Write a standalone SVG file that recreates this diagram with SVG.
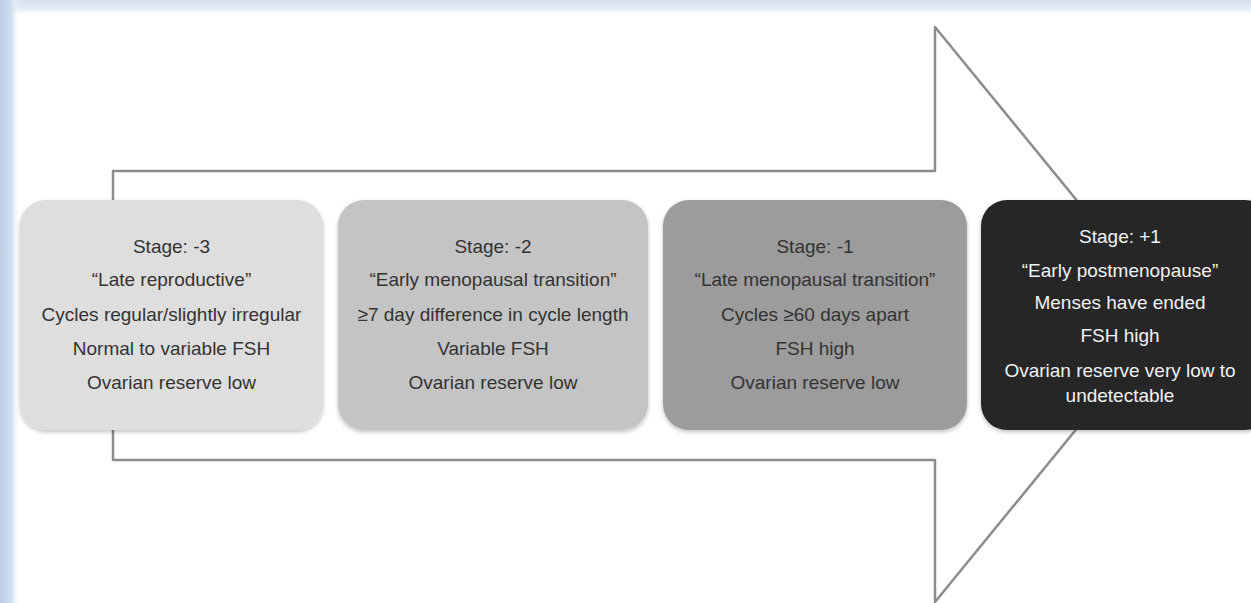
<svg xmlns="http://www.w3.org/2000/svg" width="1251" height="603" viewBox="0 0 1251 603">
<defs>
<linearGradient id="gl" x1="0" y1="0" x2="1" y2="0">
<stop offset="0" stop-color="#b9cde6"/>
<stop offset="0.6" stop-color="#d3e0f0"/>
<stop offset="1" stop-color="#ffffff" stop-opacity="0"/>
</linearGradient>
<linearGradient id="gt" x1="0" y1="0" x2="0" y2="1">
<stop offset="0" stop-color="#d6e1ef"/>
<stop offset="0.6" stop-color="#e6edf6"/>
<stop offset="1" stop-color="#ffffff" stop-opacity="0"/>
</linearGradient>
<filter id="sh" x="-5%" y="-5%" width="110%" height="115%">
<feGaussianBlur in="SourceAlpha" stdDeviation="2"/>
<feOffset dx="0" dy="2" result="b"/>
<feComponentTransfer><feFuncA type="linear" slope="0.25"/></feComponentTransfer>
<feMerge><feMergeNode/><feMergeNode in="SourceGraphic"/></feMerge>
</filter>
</defs>
<style>
.t{font-family:"Liberation Sans",Arial,sans-serif;font-size:19px;text-anchor:middle;fill:#333333}
.w{fill:#f2f2f2}
.box{filter:url(#sh)}
</style>
<rect width="1251" height="603" fill="#ffffff"/>
<rect x="0" y="0" width="1251" height="16" fill="url(#gt)"/>
<rect x="0" y="0" width="20" height="603" fill="url(#gl)"/>
<g id="connectors">
<path d="M113,171 H935 V27 L1170,314.5 L935,602 V460 H113 Z" fill="none" stroke="#8c8c8c" stroke-width="2.5" stroke-linejoin="round"/>
</g>
<g id="stage-3">
<rect class="box" x="20" y="200" width="303" height="230" rx="26" fill="#dedede"/>
<text class="t" x="171.5" y="253">Stage: -3</text>
<text class="t" x="171.5" y="286">“Late reproductive”</text>
<text class="t" x="171.5" y="321">Cycles regular/slightly irregular</text>
<text class="t" x="171.5" y="355">Normal to variable FSH</text>
<text class="t" x="171.5" y="389">Ovarian reserve low</text>
</g>
<g id="stage-2">
<rect class="box" x="338" y="200" width="310" height="230" rx="26" fill="#c4c4c4"/>
<text class="t" x="493" y="253">Stage: -2</text>
<text class="t" x="493" y="286">“Early menopausal transition”</text>
<text class="t" x="493" y="321">≥7 day difference in cycle length</text>
<text class="t" x="493" y="355">Variable FSH</text>
<text class="t" x="493" y="389">Ovarian reserve low</text>
</g>
<g id="stage-1">
<rect class="box" x="663" y="200" width="304" height="230" rx="26" fill="#9c9c9c"/>
<text class="t" x="815" y="253">Stage: -1</text>
<text class="t" x="815" y="286">“Late menopausal transition”</text>
<text class="t" x="815" y="321">Cycles ≥60 days apart</text>
<text class="t" x="815" y="355">FSH high</text>
<text class="t" x="815" y="389">Ovarian reserve low</text>
</g>
<g id="stage+1">
<rect class="box" x="981" y="200" width="290" height="230" rx="26" fill="#262626"/>
<text class="t w" x="1120" y="243">Stage: +1</text>
<text class="t w" x="1120" y="277">“Early postmenopause”</text>
<text class="t w" x="1120" y="309">Menses have ended</text>
<text class="t w" x="1120" y="342">FSH high</text>
<text class="t w" x="1120" y="377">Ovarian reserve very low to</text>
<text class="t w" x="1120" y="402">undetectable</text>
</g>
</svg>
